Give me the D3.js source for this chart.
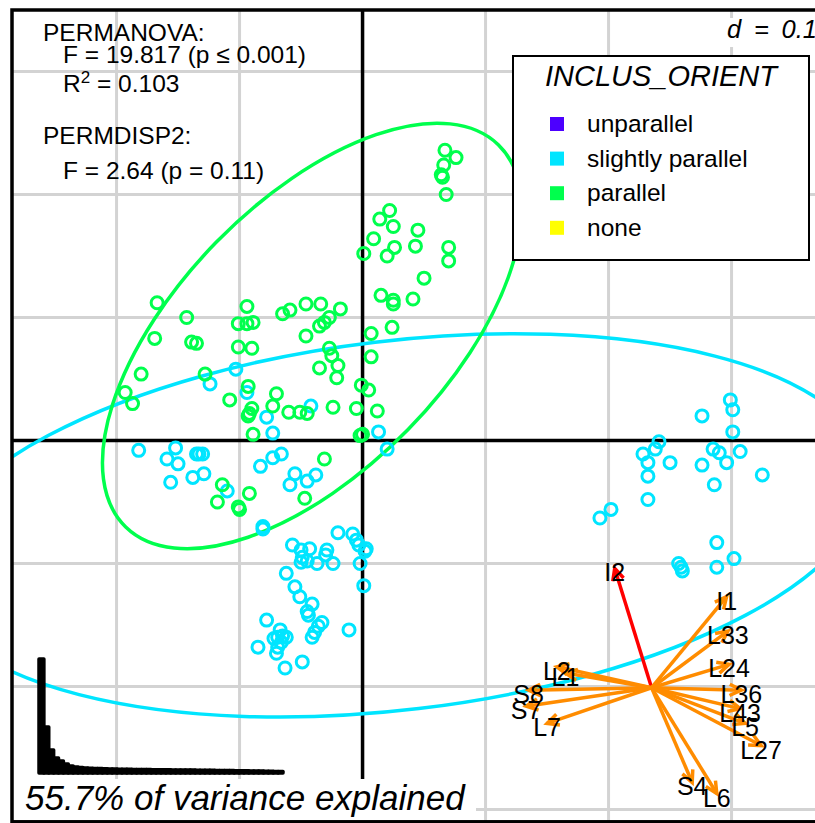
<!DOCTYPE html>
<html>
<head>
<meta charset="utf-8">
<script src="https://cdn.jsdelivr.net/npm/d3@7"></script>
<style>
body { margin: 0; background: #fff; overflow: hidden; }
svg { display: block; }
text { font-family: "Liberation Sans", Arial, Helvetica, sans-serif; }
</style>
</head>
<body>
<div id="chart"></div>
<script>
// values (axis units, grid step d = 0.1)
const gridX = [-0.2, -0.1, 0, 0.1, 0.2, 0.3]
const gridY = [-0.3, -0.2, -0.1, 0, 0.1, 0.2, 0.3]

const categories = ["unparallel", "slightly parallel", "parallel", "none"]

// site scores, one array per class
const slightlyParallel = [
  [-0.103,0.058],[-0.124,0.046],[-0.094,0.039],[-0.078,0.019],[-0.073,0.006],[-0.042,0.028],
  [0.013,0.007],[0.020,-0.007],[-0.182,-0.008],[-0.152,-0.006],[-0.159,-0.015],[-0.150,-0.019],
  [-0.135,-0.011],[-0.133,-0.011],[-0.130,-0.011],[-0.156,-0.034],[-0.138,-0.030],[-0.129,-0.027],
  [-0.110,-0.041],[-0.083,-0.021],[-0.073,-0.014],[-0.066,-0.011],[-0.055,-0.027],[-0.059,-0.036],
  [-0.045,-0.033],[-0.038,-0.028],[-0.081,-0.070],[-0.081,-0.072],[-0.020,-0.075],[-0.008,-0.076],
  [-0.057,-0.085],[-0.050,-0.089],[-0.043,-0.088],[-0.049,-0.095],[-0.045,-0.098],[-0.050,-0.099],
  [-0.037,-0.100],[-0.029,-0.089],[-0.030,-0.093],[-0.024,-0.100],[-0.005,-0.081],[-0.003,-0.085],
  [0.003,-0.088],[0.002,-0.090],[-0.002,-0.100],[0.001,-0.118],[-0.062,-0.108],[-0.055,-0.119],
  [-0.051,-0.127],[-0.041,-0.133],[-0.045,-0.139],[-0.044,-0.142],[-0.033,-0.148],[-0.036,-0.151],
  [-0.039,-0.156],[-0.041,-0.160],[-0.011,-0.154],[-0.078,-0.146],[-0.065,-0.159],[-0.069,-0.160],
  [-0.072,-0.161],[-0.062,-0.160],[-0.066,-0.164],[-0.069,-0.168],[-0.070,-0.173],[-0.085,-0.168],
  [-0.063,-0.185],[-0.049,-0.180],[-0.067,-0.154],
  [0.299,0.033],[0.301,0.025],[0.276,0.020],[0.301,0.007],[0.241,-0.001],[0.238,-0.007],
  [0.228,-0.011],[0.232,-0.018],[0.250,-0.018],[0.285,-0.007],[0.290,-0.010],[0.296,-0.018],
  [0.307,-0.009],[0.276,-0.020],[0.232,-0.029],[0.286,-0.036],[0.325,-0.028],[0.232,-0.048],
  [0.202,-0.056],[0.193,-0.063],[0.288,-0.083],[0.302,-0.096],[0.288,-0.103],[0.257,-0.100],
  [0.259,-0.103],[0.260,-0.106]
]

const parallel = [
  [-0.167,0.112],[-0.143,0.100],[-0.169,0.083],[-0.139,0.080],[-0.135,0.079],[-0.180,0.054],
  [-0.193,0.039],[-0.187,0.030],[-0.128,0.054],[-0.094,0.109],[-0.101,0.095],[-0.094,0.095],
  [-0.089,0.096],[-0.101,0.076],[-0.090,0.075],[-0.108,0.033],[-0.093,0.044],[-0.090,0.026],
  [-0.092,0.022],[-0.093,0.020],[-0.089,0.005],[-0.070,0.038],[-0.073,0.028],[-0.060,0.023],
  [-0.051,0.023],[-0.045,0.022],[-0.065,0.103],[-0.059,0.106],[-0.046,0.111],[-0.034,0.111],
  [-0.018,0.107],[-0.027,0.100],[-0.031,0.096],[-0.035,0.093],[-0.046,0.085],[-0.027,0.075],
  [-0.025,0.069],[-0.035,0.059],[-0.020,0.061],[-0.021,0.051],[-0.024,0.027],[-0.005,0.026],
  [-0.001,0.045],[0.005,0.041],[0.007,0.087],[0.007,0.068],[0.015,0.118],[0.025,0.114],
  [0.025,0.111],[0.024,0.092],[0.012,0.024],[-0.002,0.004],[0.000,0.005],[-0.031,-0.015],
  [-0.114,-0.036],[-0.092,-0.043],[-0.118,-0.050],[-0.101,-0.054],[-0.100,-0.056],[-0.047,-0.047],
  [0.067,0.236],[0.076,0.230],[0.066,0.224],[0.064,0.216],[0.065,0.214],[0.068,0.200],
  [0.022,0.187],[0.014,0.180],[0.025,0.174],[0.009,0.164],[0.026,0.157],[0.020,0.150],
  [0.001,0.152],[0.045,0.171],[0.043,0.158],[0.070,0.157],[0.070,0.146],[0.050,0.132],
  [0.041,0.115]
]

// class ellipses: centre x, centre y, semi-major, semi-minor, angle (deg)
const ellipseSlightly = [0.028, -0.069, 0.386, 0.150, 6.8]
const ellipseParallel = [-0.041, 0.085, 0.217, 0.109, 45.7]

// fitted environmental vectors, drawn from a shifted origin
const envOrigin = [0.235, -0.201]
const envNames = ["I2", "I1", "L33", "L24", "L36", "L43", "L5", "L27", "L6", "S4", "L7", "S7", "S8", "L2", "L1"]
const envX = [-0.030, 0.061, 0.062, 0.063, 0.073, 0.072, 0.076, 0.089, 0.053, 0.033, -0.085, -0.102, -0.100, -0.077, -0.070]
const envY = [0.097, 0.074, 0.046, 0.019, -0.002, -0.017, -0.029, -0.047, -0.086, -0.077, -0.029, -0.015, -0.002, 0.017, 0.012]

// eigenvalue screeplot (inset)
const eigenvalues = [114, 46, 23, 15, 12, 9, 7, 6, 5.5, 5, 4.8, 4.6, 4.4, 4.2, 4.0, 3.9,
  3.8, 3.75, 3.7, 3.6, 3.55, 3.5, 3.4, 3.35, 3.3, 3.2, 3.15, 3.1, 3.05, 3.0, 3.0,
  2.9, 2.85, 2.8, 2.7, 2.65, 2.6, 2.5, 2.45, 2.4, 2.3, 2.25, 2.2, 2.1, 2.0, 1.9, 1.8, 1.7, 1.6, 1.5]

const varianceExplained = "55.7% of variance explained"
const permanova = { F: "19.817", p: "0.001", R2: "0.103" }
const permdisp = { F: "2.64", p: "0.11" }

// ---- layout / style ----
const W = 815, H = 823
const mLeft = 12, mTop = 10, ppu = 1230
const colors = { "unparallel": "#4C00FF", "slightly parallel": "#00E5FF", "parallel": "#00FF4D", "none": "#FFFF00" }
const arrowColor = "#FF8C00"

const plotW = 0.67 * ppu, plotH = 0.66 * ppu
const x = d3.scaleLinear().domain([-0.285, 0.385]).range([mLeft, mLeft + plotW])
const y = d3.scaleLinear().domain([-0.31, 0.35]).range([mTop + plotH, mTop])

const svg = d3.select("#chart").append("svg")
  .attr("width", W).attr("height", H)

svg.append("defs").append("clipPath").attr("id", "clip")
  .append("rect").attr("x", mLeft).attr("y", mTop).attr("width", plotW).attr("height", plotH)

const g = svg.append("g").attr("clip-path", "url(#clip)")

// grid
g.selectAll(".gx").data(gridX).join("line")
  .attr("x1", d => x(d)).attr("x2", d => x(d))
  .attr("y1", mTop).attr("y2", mTop + plotH)
  .attr("stroke", "#D3D3D3").attr("stroke-width", 3)
g.selectAll(".gy").data(gridY).join("line")
  .attr("y1", d => y(d)).attr("y2", d => y(d))
  .attr("x1", mLeft).attr("x2", mLeft + plotW)
  .attr("stroke", "#D3D3D3").attr("stroke-width", 3)

// zero axes
g.append("line").attr("x1", x(0)).attr("x2", x(0)).attr("y1", mTop).attr("y2", mTop + plotH)
  .attr("stroke", "black").attr("stroke-width", 3.5)
g.append("line").attr("y1", y(0)).attr("y2", y(0)).attr("x1", mLeft).attr("x2", mLeft + plotW)
  .attr("stroke", "black").attr("stroke-width", 3.5)

// ellipses
function drawEllipse(e, col) {
  const cx = x(e[0]), cy = y(e[1])
  g.append("ellipse")
    .attr("cx", cx).attr("cy", cy)
    .attr("rx", x(e[2]) - x(0)).attr("ry", x(e[3]) - x(0))
    .attr("transform", `rotate(${-e[4]},${cx},${cy})`)
    .attr("fill", "none").attr("stroke", col).attr("stroke-width", 3.5)
}
drawEllipse(ellipseSlightly, colors["slightly parallel"])
drawEllipse(ellipseParallel, colors["parallel"])

// points
function drawPoints(pts, col) {
  g.append("g").selectAll("circle").data(pts).join("circle")
    .attr("cx", d => x(d[0])).attr("cy", d => y(d[1])).attr("r", 6)
    .attr("fill", "none").attr("stroke", col).attr("stroke-width", 3)
}
drawPoints(slightlyParallel, colors["slightly parallel"])
drawPoints(parallel, colors["parallel"])

// env arrows
const arrows = envNames.map((n, i) => ({ name: n, dx: envX[i], dy: envY[i] }))
const ox = x(envOrigin[0]), oy = y(envOrigin[1])
const ag = g.append("g")
arrows.forEach(function(d) {
  const tx = x(envOrigin[0] + d.dx), ty = y(envOrigin[1] + d.dy)
  const col = d.name == "I2" ? "#FF0000" : arrowColor
  const ang = Math.atan2(ty - oy, tx - ox)
  const hl = 13, ha = 0.45
  ag.append("line").attr("x1", ox).attr("y1", oy).attr("x2", tx).attr("y2", ty)
    .attr("stroke", col).attr("stroke-width", 3.5)
  ag.append("path")
    .attr("d", `M${tx - hl * Math.cos(ang - ha)},${ty - hl * Math.sin(ang - ha)}L${tx},${ty}L${tx - hl * Math.cos(ang + ha)},${ty - hl * Math.sin(ang + ha)}`)
    .attr("fill", "none").attr("stroke", col).attr("stroke-width", 3.5)
})
arrows.forEach(function(d) {
  ag.append("text")
    .attr("x", x(envOrigin[0] + d.dx)).attr("y", y(envOrigin[1] + d.dy) + 4)
    .attr("text-anchor", "middle").attr("dominant-baseline", "central")
    .attr("font-size", 25).attr("fill", "black")
    .text(d.name)
})

// screeplot inset
const ex = d3.scaleBand().domain(d3.range(eigenvalues.length)).range([39, 283]).padding(0)
const ey = d3.scaleLinear().domain([0, d3.max(eigenvalues)]).range([0, 114])
g.append("g").selectAll("rect").data(eigenvalues).join("rect")
  .attr("x", (d, i) => ex(i)).attr("width", ex.bandwidth())
  .attr("y", d => 773 - ey(d)).attr("height", d => ey(d))
  .attr("fill", "black").attr("stroke", "black").attr("stroke-width", 3.5)
  .attr("stroke-linejoin", "round")

// variance text with white box
g.append("rect").attr("x", mLeft).attr("y", 779).attr("width", 464).attr("height", 45).attr("fill", "white")
g.append("text").attr("x", 25).attr("y", 810)
  .attr("font-size", 35).attr("font-style", "italic")
  .text(varianceExplained)

// d = 0.1 label (plotmath-like wide spaces)
g.append("rect").attr("x", 716).attr("y", 18).attr("width", 130).attr("height", 29).attr("fill", "white")
g.append("text").attr("x", 727).attr("y", 38)
  .attr("font-size", 25.5).attr("font-style", "italic")
  .text("d\u2002=\u20020.1")

// stats text
const st = g.append("g").attr("font-size", 24.5)
st.append("text").attr("x", 43).attr("y", 41).text("PERMANOVA:")
st.append("text").attr("x", 63).attr("y", 63).text(`F = ${permanova.F} (p \u2264 ${permanova.p})`)
const r2 = st.append("text").attr("x", 63).attr("y", 92)
r2.append("tspan").text("R")
r2.append("tspan").attr("dy", -9).attr("font-size", 17).text("2")
r2.append("tspan").attr("dy", 9).text(` = ${permanova.R2}`)
st.append("text").attr("x", 43).attr("y", 144).text("PERMDISP2:")
st.append("text").attr("x", 63).attr("y", 179).text(`F = ${permdisp.F} (p = ${permdisp.p})`)

// legend
const lg = svg.append("g")
lg.append("rect").attr("x", 513).attr("y", 56).attr("width", 296).attr("height", 204)
  .attr("fill", "white").attr("stroke", "black").attr("stroke-width", 2)
lg.append("text").attr("x", 661).attr("y", 86).attr("text-anchor", "middle")
  .attr("font-size", 29).attr("font-style", "italic").text("INCLUS_ORIENT")
lg.selectAll(".it").data(categories).join("g")
  .attr("transform", (d, i) => `translate(0,${124 + i * 34.6})`)
  .each(function(d) {
    const s = d3.select(this)
    s.append("rect").attr("x", 550).attr("y", -7).attr("width", 14).attr("height", 14).attr("fill", colors[d])
    s.append("text").attr("x", 587).attr("y", 8).attr("font-size", 24.5).text(d)
  })

// frame
svg.append("rect").attr("x", mLeft).attr("y", mTop).attr("width", plotW).attr("height", plotH)
  .attr("fill", "none").attr("stroke", "black").attr("stroke-width", 3.5)
</script>
</body>
</html>
